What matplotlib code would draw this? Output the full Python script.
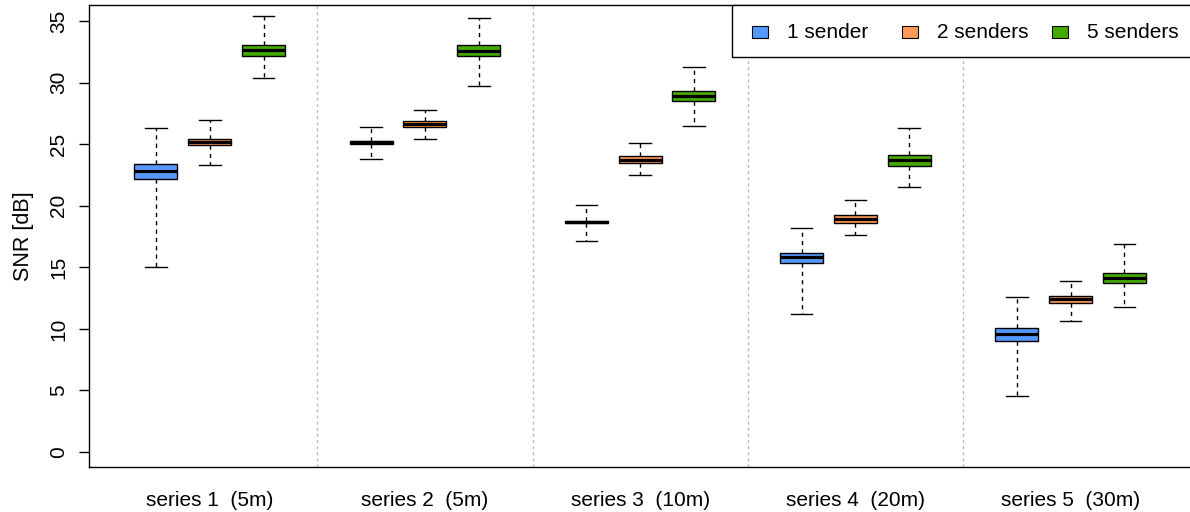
import matplotlib
matplotlib.use("Agg")
import matplotlib.pyplot as plt
from matplotlib.patches import Rectangle

plt.rcParams["font.family"] = ["Liberation Sans", "DejaVu Sans"]

groups = ["series 1  (5m)", "series 2  (5m)", "series 3  (10m)",
          "series 4  (20m)", "series 5  (30m)"]
senders = ["1 sender", "2 senders", "5 senders"]
colors = ["#5599FF", "#FF9955", "#44AA00"]

# five-number summaries per sender count, one entry per series
one_lo = [15.0, 23.8, 17.15, 11.2, 4.55]
one_q1 = [22.2, 25.05, 18.62, 15.32, 9.02]
one_med = [22.85, 25.15, 18.68, 15.84, 9.6]
one_q3 = [23.4, 25.25, 18.75, 16.19, 10.07]
one_hi = [26.3, 26.4, 20.05, 18.2, 12.57]

two_lo = [23.3, 25.45, 22.47, 17.65, 10.64]
two_q1 = [24.96, 26.4, 23.45, 18.6, 12.1]
two_med = [25.2, 26.65, 23.75, 18.93, 12.4]
two_q3 = [25.4, 26.86, 24.02, 19.25, 12.7]
two_hi = [27.0, 27.75, 25.08, 20.5, 13.89]

five_lo = [30.4, 29.75, 26.5, 21.5, 11.8]
five_q1 = [32.2, 32.17, 28.55, 23.25, 13.7]
five_med = [32.65, 32.6, 28.95, 23.7, 14.11]
five_q3 = [33.1, 33.03, 29.35, 24.1, 14.52]
five_hi = [35.45, 35.25, 31.3, 26.3, 16.9]

summaries = [
    (one_lo, one_q1, one_med, one_q3, one_hi),
    (two_lo, two_q1, two_med, two_q3, two_hi),
    (five_lo, five_q1, five_med, five_q3, five_hi),
]

W, H = 1190, 512
fig = plt.figure(figsize=(W / 100, H / 100), dpi=100)
ax = fig.add_axes([89 / W, 1 - 467 / H, 1 - 89 / W, (467 - 5) / H])

fs = 15

for k, (lo, q1, med, q3, hi) in enumerate(summaries):
    stats = []
    positions = []
    for g in range(len(groups)):
        stats.append(dict(whislo=lo[g], q1=q1[g], med=med[g], q3=q3[g],
                          whishi=hi[g], fliers=[]))
        positions.append(4 * g + k + 1)
    ax.bxp(stats, positions=positions, widths=0.8, capwidths=0.4,
           patch_artist=True, showfliers=False, manage_ticks=False,
           boxprops=dict(facecolor=colors[k], edgecolor="black", linewidth=1.0),
           medianprops=dict(color="black", linewidth=2.3, solid_capstyle="butt"),
           whiskerprops=dict(color="black", linewidth=1.0, linestyle=(0, (3, 3))),
           capprops=dict(color="black", linewidth=1.0))

# group separators
for g in range(1, len(groups)):
    ax.axvline(4 * g, color="#BBBBBB", linewidth=1.0, linestyle=(0, (2.2, 2.2)), zorder=0)

ax.set_xlim(-0.245, 20.22)
ax.set_ylim(-1.22, 36.31)

ax.set_xticks([4 * g + 2 for g in range(len(groups))])
ax.set_xticklabels(groups, fontsize=fs)
ax.tick_params(axis="x", length=0, pad=17)

ax.set_yticks(range(0, 36, 5))
ax.tick_params(axis="y", length=7, width=1, pad=8, labelsize=fs, labelrotation=90)
for lbl in ax.get_yticklabels():
    lbl.set_va("center")

ax.set_ylabel("SNR [dB]", fontsize=15.5, labelpad=11)

for side in ("left", "bottom", "top"):
    ax.spines[side].set_linewidth(1.0)
    ax.spines[side].set_color("black")
ax.spines["right"].set_visible(False)


# legend box laid out in figure pixels (origin at top-left)
def px(x, y):
    return x / W, 1 - y / H


frame_x0, frame_y0, frame_x1, frame_y1 = 732, 5, 1200, 57
fx, fy = px(frame_x0, frame_y1)
fig.add_artist(Rectangle((fx, fy), (frame_x1 - frame_x0) / W,
                         (frame_y1 - frame_y0) / H, transform=fig.transFigure,
                         facecolor="white", edgecolor="black", linewidth=1.0,
                         zorder=5))
key_x = [752, 902, 1052]
row_y = 32
for kx, name, c in zip(key_x, senders, colors):
    sx, sy = px(kx, row_y + 6)
    fig.add_artist(Rectangle((sx, sy), 16 / W, 12 / H, transform=fig.transFigure,
                             facecolor=c, edgecolor="black", linewidth=0.8,
                             zorder=6))
    tx, ty = px(kx + 35, row_y)
    fig.text(tx, ty, name, fontsize=fs, ha="left", va="center", zorder=6)

fig.savefig("out.png", dpi=100)
